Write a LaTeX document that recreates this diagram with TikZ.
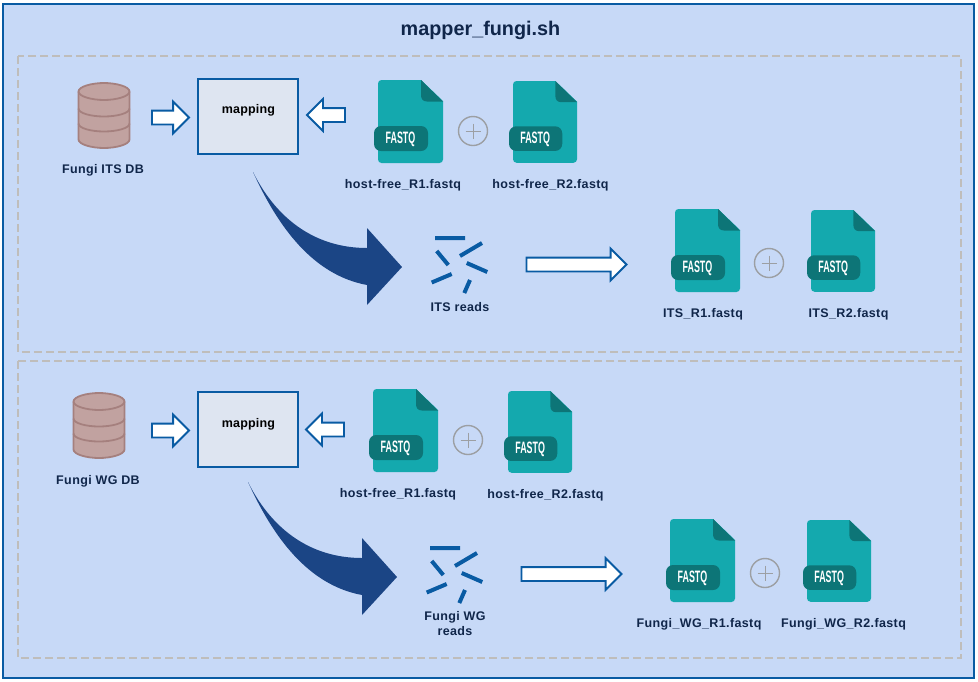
\documentclass[tikz,border=0pt]{standalone}
\usepackage{fontspec}
\setmainfont{Liberation Sans}
\newfontfamily\lblfont[LetterSpace=3]{Liberation Sans}
\newfontfamily\mapfont[LetterSpace=1.5]{Liberation Sans}
\usetikzlibrary{shapes.arrows}
\definecolor{outerblue}{HTML}{095BA3}
\definecolor{bgblue}{HTML}{C7D9F7}
\definecolor{dashgray}{HTML}{BFBDBB}
\definecolor{boxfill}{HTML}{DEE5F1}
\definecolor{dbfill}{HTML}{C1A2A0}
\definecolor{dbline}{HTML}{A5807E}
\definecolor{teal}{HTML}{14A9AE}
\definecolor{tealdark}{HTML}{0D7577}
\definecolor{plusgray}{HTML}{9C9FA3}
\definecolor{curveblue}{HTML}{1B4585}
\definecolor{lbl}{HTML}{10264A}
\tikzset{
  x=1pt,y=-1pt,
  panel/.style={draw=dashgray,line width=2pt,dash pattern=on 8pt off 4pt},
  mapbox/.style={draw=outerblue,fill=boxfill,line width=2pt,minimum width=100pt,minimum height=75pt,inner sep=0pt},
  lab/.style={text=lbl,font=\lblfont\bfseries\fontsize{12.5}{14.5}\selectfont,align=center,inner sep=0pt,yshift=-1pt},
  maplab/.style={text=black,font=\mapfont\bfseries\fontsize{12.5}{14}\selectfont,inner sep=0pt,yshift=-1pt},
  hollow/.style={single arrow,draw=outerblue,fill=white,line width=1.8pt,inner xsep=0pt,inner ysep=6pt,
    single arrow head extend=9pt,single arrow tip angle=90,single arrow head indent=0pt,outer sep=0pt},
  pics/dbicon/.style={code={
    \path[draw=dbline,fill=dbfill,line width=1.8pt]
      (-25.5,-24) -- (-25.5,24) .. controls (-25.5,29) and (-12,32.5) .. (0,32.5)
      .. controls (12,32.5) and (25.5,29) .. (25.5,24) -- (25.5,-24)
      .. controls (25.5,-29) and (12,-32.5) .. (0,-32.5)
      .. controls (-12,-32.5) and (-25.5,-29) .. (-25.5,-24) -- cycle;
    \path[draw=dbline,line width=1.8pt]
      (-25.5,-24) .. controls (-25.5,-19) and (-12,-15.5) .. (0,-15.5) .. controls (12,-15.5) and (25.5,-19) .. (25.5,-24)
      (-25.5,-7) .. controls (-25.5,-2) and (-12,1) .. (0,1) .. controls (12,1) and (25.5,-2) .. (25.5,-7)
      (-25.5,8) .. controls (-25.5,13) and (-12,16) .. (0,16) .. controls (12,16) and (25.5,13) .. (25.5,8);
  }},
  pics/fastq/.style={code={
    \path[fill=teal] (0,40) [rounded corners=3.5pt] -- (0,0) -- (30,0) [sharp corners] -- (43,0) -- (65,21) -- (65,50)
      [rounded corners=3.5pt] -- (65,83) -- (0,83) -- cycle;
    \path[fill=tealdark] (43,0) -- (65,21.5) -- (49,21.5) .. controls (45,21.5) and (43,19) .. (43,15) -- cycle;
    \path[fill=tealdark,rounded corners=7pt] (-4,46) rectangle (50,71);
    \node[text=white,inner sep=0pt,font=\bfseries\fontsize{16.5}{17}\selectfont,xscale=.54] (-txt) at (22.5,59.5) {FASTQ};
  }},
  pics/plusicon/.style={code={
    \path[draw=plusgray,line width=1.4pt] (0,0) circle (14.5);
    \path[draw=plusgray,line width=1pt] (-7.5,0) -- (7.5,0) (0,-7.5) -- (0,7.5);
  }},
  pics/curvearrow/.style={code={
    \path[fill=curveblue] (0,0) .. controls (25,50) and (65,76) .. (114,76) -- (114,56)
      -- (149,95) -- (114,133) -- (114,113)
      .. controls (60,103) and (25,55) .. (0,0) -- cycle;
  }},
  pics/readsicon/.style={code={
    \path[draw=outerblue,line width=4pt]
      (0,0) -- (30,0)
      (25,18) -- (47,5)
      (1.7,13) -- (13.3,27)
      (31.7,25) -- (52.3,34)
      (-3.3,44.5) -- (16.7,36)
      (35,42) -- (29.3,55);
  }},
}
\begin{document}
\begin{tikzpicture}
\useasboundingbox (0,0) rectangle (978,681);
\path[draw=outerblue,fill=bgblue,line width=2pt] (3,4) rectangle (974,678);
\node[text=lbl,inner sep=0pt,font=\bfseries\fontsize{19.8}{24}\selectfont] (title) at (480.5,30) {mapper\_fungi.sh};
\path[panel] (18,56) rectangle (961,352);
\path[panel] (18,361) rectangle (961,658);

% --- upper panel
\pic at (104,115.5) {dbicon};
\node[lab] (dbA) at (103,169.5) {Fungi ITS DB};
\node[mapbox] (mapA) at (248,116.5) {};
\node[maplab] (mapAt) at (248.5,109) {mapping};
\node[hollow,minimum height=37pt,anchor=tail] (arrA1) at (152,117.5) {};
\node[hollow,minimum height=38pt,shape border rotate=180,anchor=tail] (arrA2) at (345,115) {};
\pic (fA1) at (378,80) {fastq};
\pic at (473,131) {plusicon};
\pic[scale=.985] (fA2) at (513,81) {fastq};
\node[lab] (lA1) at (403,184) {host-free\_R1.fastq};
\node[lab] (lA2) at (550.5,184) {host-free\_R2.fastq};
\pic at (253,172) {curvearrow};
\pic at (435,238) {readsicon};
\node[lab] (rA) at (460,306) {ITS reads};
\node[hollow,minimum height=100pt,anchor=tail] (arrA3) at (526.5,264.5) {};
\pic (fA3) at (675,209) {fastq};
\pic at (769,263) {plusicon};
\pic[scale=.985] (fA4) at (811,210) {fastq};
\node[lab] (lA3) at (703,313) {ITS\_R1.fastq};
\node[lab] (lA4) at (848.5,313) {ITS\_R2.fastq};

% --- lower panel
\pic at (99,425.5) {dbicon};
\node[lab] (dbB) at (98,480) {Fungi WG DB};
\node[mapbox] (mapB) at (248,429.5) {};
\node[maplab] (mapBt) at (248.5,423) {mapping};
\node[hollow,minimum height=37pt,anchor=tail] (arrB1) at (152,430.5) {};
\node[hollow,minimum height=38pt,shape border rotate=180,anchor=tail] (arrB2) at (344,429.5) {};
\pic (fB1) at (373,389) {fastq};
\pic at (468,440) {plusicon};
\pic[scale=.985] (fB2) at (508,391) {fastq};
\node[lab] (lB1) at (398,493.5) {host-free\_R1.fastq};
\node[lab] (lB2) at (545.5,494) {host-free\_R2.fastq};
\pic at (248,482) {curvearrow};
\pic at (430,548) {readsicon};
\node[lab] (rB) at (455,622.5) {Fungi WG\\reads};
\node[hollow,minimum height=100pt,anchor=tail] (arrB3) at (521.5,574) {};
\pic (fB3) at (670,519) {fastq};
\pic at (765,573) {plusicon};
\pic[scale=.985] (fB4) at (807,520) {fastq};
\node[lab] (lB3) at (699,623) {Fungi\_WG\_R1.fastq};
\node[lab] (lB4) at (843.5,623) {Fungi\_WG\_R2.fastq};
\end{tikzpicture}
\end{document}
